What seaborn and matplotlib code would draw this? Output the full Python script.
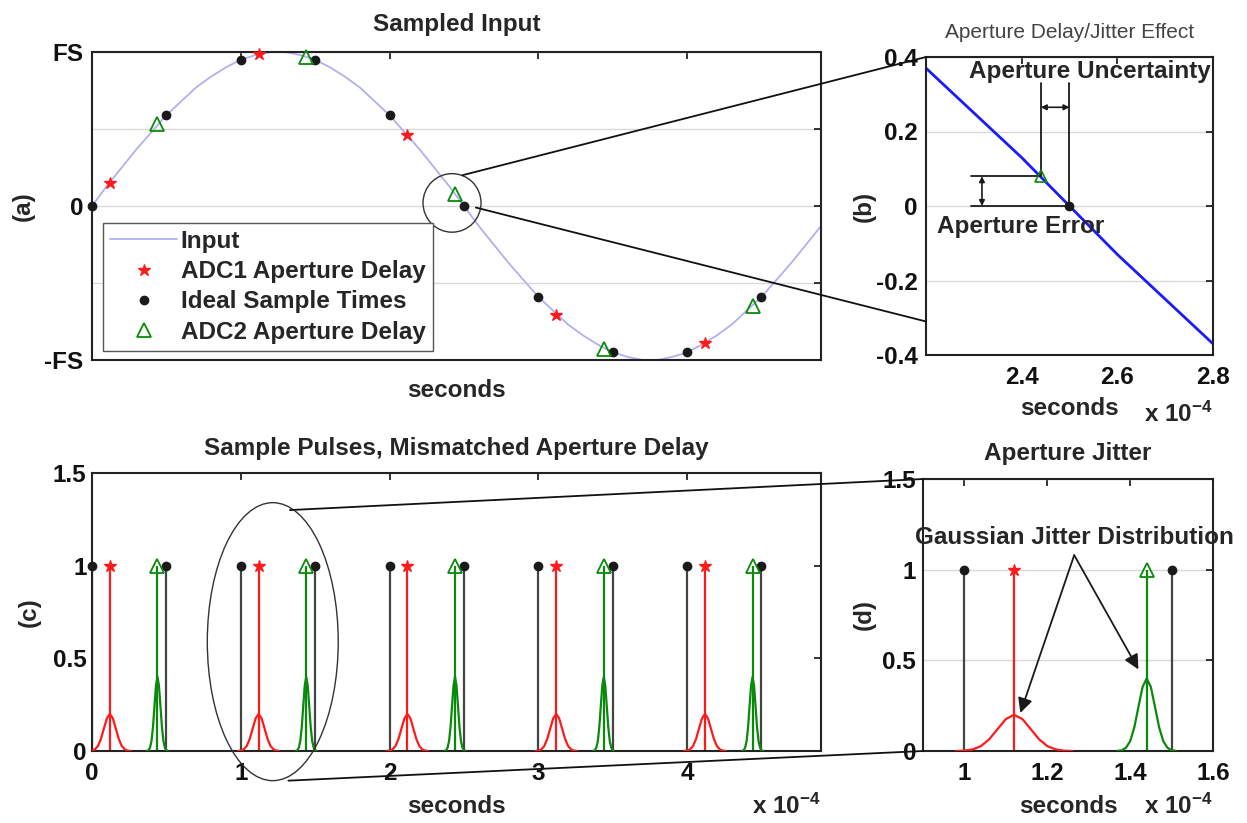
import numpy as np
import pandas as pd
import matplotlib
matplotlib.use("Agg")
import matplotlib.pyplot as plt
import seaborn as sns
from matplotlib.patches import Ellipse, ConnectionPatch

# ---------------- data (time in units of 1e-4 s) ----------------
input_t = [0.0, 0.1, 0.2, 0.3, 0.4, 0.5, 0.6, 0.7, 0.8, 0.9,
           1.0, 1.1, 1.2, 1.3, 1.4, 1.5, 1.6, 1.7, 1.8, 1.9,
           2.0, 2.1, 2.2, 2.3, 2.4, 2.5, 2.6, 2.7, 2.8, 2.9,
           3.0, 3.1, 3.2, 3.3, 3.4, 3.5, 3.6, 3.7, 3.8, 3.9,
           4.0, 4.1, 4.2, 4.3, 4.4, 4.5, 4.6, 4.7, 4.8, 4.9]
input_v = [0.00, 0.13, 0.25, 0.37, 0.48, 0.59, 0.68, 0.77, 0.84, 0.90,
           0.95, 0.98, 1.00, 1.00, 0.98, 0.95, 0.90, 0.84, 0.77, 0.68,
           0.59, 0.48, 0.37, 0.25, 0.13, 0.00, -0.13, -0.25, -0.37, -0.48,
           -0.59, -0.68, -0.77, -0.84, -0.90, -0.95, -0.98, -1.00, -1.00, -0.98,
           -0.95, -0.90, -0.84, -0.77, -0.68, -0.59, -0.48, -0.37, -0.25, -0.13]

ideal_t = [0.0, 0.5, 1.0, 1.5, 2.0, 2.5, 3.0, 3.5, 4.0, 4.5]
ideal_v = [0.00, 0.59, 0.95, 0.95, 0.59, 0.00, -0.59, -0.95, -0.95, -0.59]
adc1_t = [0.12, 1.12, 2.12, 3.12, 4.12]
adc1_v = [0.15, 0.99, 0.46, -0.71, -0.89]
adc2_t = [0.44, 1.44, 2.44, 3.44, 4.44]
adc2_v = [0.53, 0.97, 0.08, -0.93, -0.65]

pulse_height = 1.0

adc1_jit_dt = [-0.14, -0.12, -0.10, -0.08, -0.06, -0.04, -0.02, 0.0,
               0.02, 0.04, 0.06, 0.08, 0.10, 0.12, 0.14]
adc1_jit_pdf = [0.000, 0.002, 0.009, 0.027, 0.065, 0.121, 0.176, 0.200,
                0.176, 0.121, 0.065, 0.027, 0.009, 0.002, 0.000]
adc2_jit_dt = [-0.07, -0.06, -0.05, -0.04, -0.03, -0.02, -0.01, 0.0,
               0.01, 0.02, 0.03, 0.04, 0.05, 0.06, 0.07]
adc2_jit_pdf = [0.001, 0.004, 0.018, 0.054, 0.130, 0.243, 0.353, 0.400,
                0.353, 0.243, 0.130, 0.054, 0.018, 0.004, 0.001]

# ---------------- style ----------------
sns.set_theme(style="white")
plt.rcParams['font.family'] = ['Liberation Sans', 'DejaVu Sans']
plt.rcParams['font.weight'] = 'bold'
plt.rcParams['axes.labelweight'] = 'bold'
plt.rcParams['axes.titleweight'] = 'bold'
plt.rcParams['axes.edgecolor'] = '#222222'
plt.rcParams['axes.linewidth'] = 1.5
plt.rcParams['mathtext.fontset'] = 'custom'
plt.rcParams['mathtext.rm'] = 'Liberation Sans:bold'
plt.rcParams['mathtext.bf'] = 'Liberation Sans:bold'
plt.rcParams['mathtext.default'] = 'rm'

FS = 17.5
RED = '#ff1a1a'
GREEN = '#0a8a0a'
LIGHTBLUE = '#b0b0f2'
GRID = '#d9d9d9'

W, H = 1247, 823
fig = plt.figure(figsize=(W / 100, H / 100), dpi=100)
fig.patch.set_facecolor('white')


def px_axes(l, r, t, b):
    return fig.add_axes([l / W, 1 - b / H, (r - l) / W, (b - t) / H])


ax_a = px_axes(92, 821, 52, 360)
ax_b = px_axes(926, 1213, 57, 355)
ax_c = px_axes(92, 821, 473, 751)
ax_d = px_axes(923, 1213, 479, 751)

for ax in (ax_a, ax_b, ax_c, ax_d):
    ax.tick_params(direction='in', length=5, width=1.2, top=True, right=True,
                   labelsize=FS, colors='#111111')
    for s in ax.spines.values():
        s.set_color('#222222')
        s.set_linewidth(1.5)
    ax.set_axisbelow(True)

# ---------------- panel (a) ----------------
sns.lineplot(x=input_t, y=input_v, color=LIGHTBLUE, lw=1.3, ax=ax_a, label='Input')
ax_a.plot(adc1_t, adc1_v, ls='none', marker='*', color=RED, ms=9,
          label='ADC1 Aperture Delay', clip_on=False, zorder=4)
ax_a.plot(ideal_t, ideal_v, ls='none', marker='o', color='k', ms=6,
          label='Ideal Sample Times', clip_on=False, zorder=4)
ax_a.plot(adc2_t, adc2_v, ls='none', marker='^', mfc='none', mec=GREEN, mew=1.3,
          ms=10, label='ADC2 Aperture Delay', clip_on=False, zorder=4)
ax_a.set_xlim(0, 4.9)
ax_a.set_ylim(-1, 1)
ax_a.set_xticks([0, 1, 2, 3, 4])
ax_a.set_xticklabels([])
ax_a.set_yticks([-1, -0.5, 0, 0.5, 1])
ax_a.set_yticklabels(['-FS', '', '0', '', 'FS'])
ax_a.tick_params(axis='y', pad=6)
ax_a.yaxis.grid(True, color=GRID, lw=1)
ax_a.set_xlabel('seconds', fontsize=FS, labelpad=10)
ax_a.set_ylabel('(a)', fontsize=FS)
ax_a.yaxis.set_label_coords(-0.078, 0.5)
ax_a.set_title('Sampled Input', fontsize=FS, pad=15)
leg = ax_a.legend(loc='lower left', bbox_to_anchor=(0.015, 0.029), frameon=True,
                  fancybox=False, edgecolor='#555555', framealpha=1,
                  handlelength=2.75, handletextpad=0.15, labelspacing=0.3,
                  borderpad=0.3, borderaxespad=0, prop=dict(weight='bold', size=FS))
leg.get_frame().set_linewidth(1.0)
ax_a.add_patch(Ellipse((2.42, 0.02), 0.39, 0.38, fill=False, ec='#333333', lw=1.0, zorder=5))

# ---------------- panel (b) ----------------
sns.lineplot(x=input_t, y=input_v, color='#1a1aff', lw=2, ax=ax_b)
ax_b.plot(adc2_t, adc2_v, ls='none', marker='^', mfc='none', mec=GREEN, mew=1.2, ms=8, zorder=4)
ax_b.plot(ideal_t, ideal_v, ls='none', marker='o', color='k', ms=6, zorder=4)
ax_b.set_xlim(2.2, 2.8)
ax_b.set_ylim(-0.4, 0.4)
ax_b.set_xticks([2.4, 2.6, 2.8])
ax_b.set_xticklabels(['2.4', '2.6', '2.8'])
ax_b.set_yticks([-0.4, -0.2, 0, 0.2, 0.4])
ax_b.set_yticklabels(['-0.4', '-0.2', '0', '0.2', '0.4'])
ax_b.tick_params(axis='x', pad=8)
ax_b.tick_params(axis='y', pad=6)
ax_b.yaxis.grid(True, color=GRID, lw=1)
ax_b.set_xlabel('seconds', fontsize=FS, labelpad=6)
ax_b.set_ylabel('(b)', fontsize=FS)
ax_b.yaxis.set_label_coords(-0.174, 0.5)
ax_b.set_title('Aperture Delay/Jitter Effect', fontsize=15, fontweight='normal',
               color='#444444', pad=14)
ax_b.text(1.0, -0.2, r'x 10$^{-4}$', transform=ax_b.transAxes, ha='right',
          va='center', fontsize=FS)

# annotation of aperture uncertainty / error
t_d, v_d = adc2_t[2], adc2_v[2]
t_i, v_i = ideal_t[5], ideal_v[5]
top = 0.33
ax_b.plot([t_d, t_d], [v_d, top], color='k', lw=1.3)
ax_b.plot([t_i, t_i], [v_i, top], color='k', lw=1.3)
ax_b.plot([2.295, t_d], [v_d, v_d], color='k', lw=1.3)
ax_b.plot([2.295, t_i], [v_i, v_i], color='k', lw=1.3)
ax_b.annotate('', xy=(t_d, 0.265), xytext=(t_i, 0.265),
              arrowprops=dict(arrowstyle='<|-|>', color='k', lw=1.2,
                              mutation_scale=8, shrinkA=0, shrinkB=0))
ax_b.annotate('', xy=(2.317, v_i), xytext=(2.317, v_d),
              arrowprops=dict(arrowstyle='<|-|>', color='k', lw=1.2,
                              mutation_scale=8, shrinkA=0, shrinkB=0))
ax_b.text(2.543, 0.36, 'Aperture Uncertainty', ha='center', va='center', fontsize=FS)
ax_b.text(2.223, -0.056, 'Aperture Error', ha='left', va='center', fontsize=FS)

# ---------------- pulses (c) and (d) ----------------
rows1 = []
for i, c in enumerate(adc1_t):
    for dt, h in zip(adc1_jit_dt, adc1_jit_pdf):
        rows1.append((i, c + dt, h))
df1 = pd.DataFrame(rows1, columns=['pulse', 't', 'h'])
rows2 = []
for i, c in enumerate(adc2_t):
    for dt, h in zip(adc2_jit_dt, adc2_jit_pdf):
        rows2.append((i, c + dt, h))
df2 = pd.DataFrame(rows2, columns=['pulse', 't', 'h'])


def draw_pulses(ax, clip):
    ax.vlines(ideal_t, 0, pulse_height, color='#444444', lw=1.6, zorder=2)
    ax.vlines(adc1_t, 0, pulse_height, color=RED, lw=1.6, zorder=2)
    ax.vlines(adc2_t, 0, pulse_height, color=GREEN, lw=1.6, zorder=2)
    sns.lineplot(data=df1, x='t', y='h', units='pulse', estimator=None, sort=False,
                 color=RED, lw=1.6, ax=ax, zorder=3)
    sns.lineplot(data=df2, x='t', y='h', units='pulse', estimator=None, sort=False,
                 color=GREEN, lw=1.6, ax=ax, zorder=3)
    n0 = len(ideal_t)
    ax.plot(ideal_t, [pulse_height] * n0, ls='none', marker='o', color='k', ms=6,
            clip_on=clip, zorder=4)
    ax.plot(adc1_t, [pulse_height] * len(adc1_t), ls='none', marker='*', color=RED,
            ms=9, clip_on=clip, zorder=4)
    ax.plot(adc2_t, [pulse_height] * len(adc2_t), ls='none', marker='^', mfc='none',
            mec=GREEN, mew=1.3, ms=10, clip_on=clip, zorder=4)
    ax.set_ylim(0, 1.5)
    ax.set_yticks([0, 0.5, 1, 1.5])
    ax.set_yticklabels(['0', '0.5', '1', '1.5'])
    ax.set_xlabel('seconds', fontsize=FS, labelpad=7)


draw_pulses(ax_c, False)
ax_c.set_xlim(0, 4.9)
ax_c.set_xticks([0, 1, 2, 3, 4])
ax_c.set_xticklabels(['0', '1', '2', '3', '4'])
ax_c.tick_params(axis='x', pad=8)
ax_c.tick_params(axis='y', pad=4)
ax_c.set_ylabel('(c)', fontsize=FS)
ax_c.yaxis.set_label_coords(-0.070, 0.5)
ax_c.set_title('Sample Pulses, Mismatched Aperture Delay', fontsize=FS, pad=13)
ax_c.text(1.0, -0.198, r'x 10$^{-4}$', transform=ax_c.transAxes, ha='right',
          va='center', fontsize=FS)
ax_c.add_patch(Ellipse((1.215, 0.59), 0.88, 1.50, fill=False, ec='#333333', lw=1.0,
                       clip_on=False, zorder=5))

draw_pulses(ax_d, True)
ax_d.set_xlim(0.9, 1.6)
ax_d.set_xticks([1.0, 1.2, 1.4, 1.6])
ax_d.set_xticklabels(['1', '1.2', '1.4', '1.6'])
ax_d.tick_params(axis='x', pad=8)
ax_d.tick_params(axis='y', pad=5)
ax_d.yaxis.grid(True, color=GRID, lw=1)
ax_d.set_ylabel('(d)', fontsize=FS)
ax_d.yaxis.set_label_coords(-0.162, 0.5)
ax_d.set_title('Aperture Jitter', fontsize=FS, pad=14)
ax_d.text(1.0, -0.202, r'x 10$^{-4}$', transform=ax_d.transAxes, ha='right',
          va='center', fontsize=FS)
ax_d.text(1.265, 1.175, 'Gaussian Jitter Distribution', ha='center', va='center',
          fontsize=FS, zorder=6)
for tgt in [(1.135, 0.21), (1.42, 0.45)]:
    ax_d.annotate('', xy=tgt, xytext=(1.265, 1.08),
                  arrowprops=dict(arrowstyle='-|>', color='k', lw=1.3,
                                  mutation_scale=22, shrinkA=0, shrinkB=0))

# ---------------- zoom connectors ----------------
for xyA, axA, xyB, axB in [((2.49, 0.20), ax_a, (2.2, 0.4), ax_b),
                           ((2.58, -0.01), ax_a, (2.2, -0.31), ax_b),
                           ((1.33, 1.30), ax_c, (0.9, 1.5), ax_d),
                           ((1.32, -0.16), ax_c, (0.9, 0.0), ax_d)]:
    con = ConnectionPatch(xyA=xyA, coordsA=axA.transData, xyB=xyB, coordsB=axB.transData,
                          color='#111111', lw=1.3)
    fig.add_artist(con)

fig.savefig('out.png', dpi=100, facecolor='white')
